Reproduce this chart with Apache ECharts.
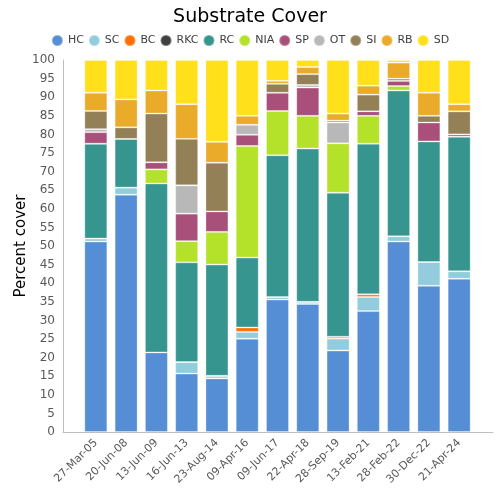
<!DOCTYPE html>
<html>
<head>
<meta charset="utf-8">
<script src="https://cdn.jsdelivr.net/npm/echarts@6/dist/echarts.min.js"></script>
<style>html,body{margin:0;padding:0;background:#fff}#c{width:500px;height:500px}</style>
</head>
<body>
<div id="c"></div>
<script>
var categories = ['27-Mar-05','20-Jun-08','13-Jun-09','16-Jun-13','23-Aug-14','09-Apr-16','09-Jun-17','22-Apr-18','28-Sep-19','13-Feb-21','28-Feb-22','30-Dec-22','21-Apr-24'];
var seriesNames = ['HC','SC','BC','RKC','RC','NIA','SP','OT','SI','RB','SD'];
var HC  = [51.2, 63.8, 21.4, 15.7, 14.4, 25.1, 35.6, 34.4, 21.9, 32.5, 51.2, 39.3, 41.2];
var SC  = [0.8, 1.9, 0, 3.1, 0.7, 1.8, 0.7, 0.6, 3.2, 3.8, 1.4, 6.4, 2.0];
var BC  = [0, 0, 0, 0, 0, 1.2, 0, 0, 0.5, 0.7, 0, 0, 0];
var RKC = [0, 0, 0, 0, 0, 0, 0, 0, 0, 0, 0, 0, 0];
var RC  = [25.5, 13.1, 45.4, 26.8, 29.9, 18.8, 38.1, 41.2, 38.7, 40.5, 39.2, 32.4, 36.2];
var NIA = [0, 0, 3.8, 5.7, 8.8, 30.0, 11.9, 8.8, 13.3, 7.5, 1.2, 0, 0];
var SP  = [3.1, 0, 1.9, 7.4, 5.5, 3.0, 4.9, 7.6, 0, 1.2, 1.4, 5.1, 0.6];
var OT  = [0.8, 0, 0, 7.6, 0, 2.7, 0, 0.7, 5.6, 0, 0, 0, 0];
var SI  = [4.9, 3.1, 13.1, 12.5, 13.1, 0, 2.4, 2.9, 0.5, 4.5, 0.6, 1.8, 6.2];
var RB  = [4.9, 7.5, 6.2, 9.3, 5.6, 2.4, 0.8, 1.9, 1.9, 2.4, 4.3, 6.2, 1.9];
var SD  = [8.8, 10.6, 8.2, 11.9, 22.0, 15.0, 5.6, 1.9, 14.4, 6.9, 0.7, 8.8, 11.9];
var seriesValues = [HC, SC, BC, RKC, RC, NIA, SP, OT, SI, RB, SD];
var colors = ['#558ED5','#93CDDD','#FF7000','#404040','#36958F','#B4E22B','#A84F7A','#B8B8B8','#948056','#EAAA2A','#FFE01A'];

var FONT = 'DejaVu Sans';
var chart = echarts.init(document.getElementById('c'), null, {renderer: 'canvas'});
var series = seriesNames.map(function(name, s){
  return {
    name: name,
    type: 'bar',
    stack: 'total',
    xAxisIndex: 1,
    yAxisIndex: 1,
    barWidth: 23,
    itemStyle: {color: colors[s], borderColor: 'rgba(255,255,255,0.3)', borderWidth: 1},
    data: seriesValues[s]
  };
});
chart.setOption({
  animation: false,
  textStyle: {fontFamily: FONT},
  title: {
    text: 'Substrate Cover', left: 'center', top: 3,
    textStyle: {fontFamily: FONT, fontSize: 19, fontWeight: 'normal', color: '#000'}
  },
  legend: {
    data: seriesNames, top: 29, left: 'center', icon: 'circle',
    itemWidth: 11, itemHeight: 11, itemGap: 4,
    textStyle: {fontFamily: FONT, fontSize: 11, color: '#404040'}
  },
  grid: [
    {left: 63, right: 7, top: 60, bottom: 68, containLabel: false},
    {left: 80.7, right: 25.7, top: 60, bottom: 68, containLabel: false}
  ],
  xAxis: [
    {
      type: 'value', gridIndex: 0, min: 0, max: 1,
      axisLine: {show: true, onZero: false, lineStyle: {color: '#BFBFBF', width: 1}},
      axisTick: {show: false}, splitLine: {show: false}, axisLabel: {show: false}
    },
    {
      type: 'category', gridIndex: 1, data: categories,
      axisLine: {show: false}, axisTick: {show: false}, splitLine: {show: false},
      axisLabel: {interval: 0, rotate: 45, fontSize: 11, color: '#595959', fontFamily: FONT, margin: 9}
    }
  ],
  yAxis: [
    {
      type: 'value', gridIndex: 0, min: 0, max: 100, interval: 5,
      name: 'Percent cover', nameLocation: 'middle', nameGap: 34, nameMoveOverlap: false,
      nameTextStyle: {fontFamily: FONT, fontSize: 15, color: '#000'},
      axisLine: {show: true, onZero: false, lineStyle: {color: '#BFBFBF', width: 1}},
      axisTick: {show: false}, splitLine: {show: false},
      axisLabel: {fontSize: 12, color: '#595959', fontFamily: FONT, margin: 8}
    },
    {
      type: 'value', gridIndex: 1, min: 0, max: 100, interval: 5,
      axisLine: {show: false}, axisTick: {show: false}, splitLine: {show: false},
      axisLabel: {show: false}
    }
  ],
  series: series
});
</script>
</body>
</html>
